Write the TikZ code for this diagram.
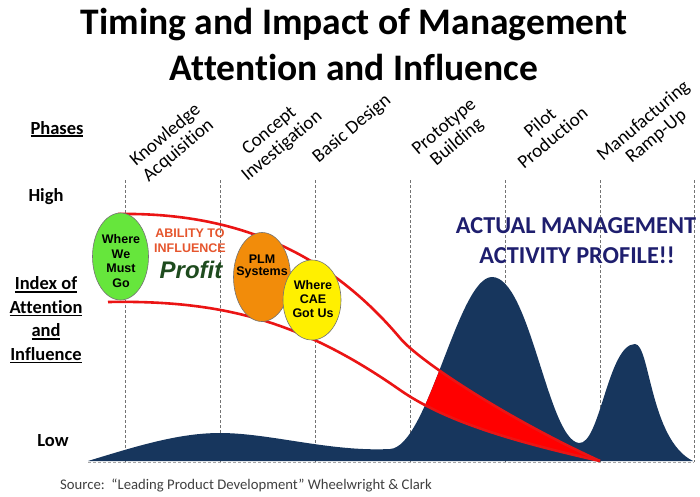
\documentclass[tikz,border=0pt]{standalone}
\usepackage{fontspec}
\setmainfont{Carlito}[Ligatures=NoCommon]
\newfontfamily\arialf{Liberation Sans}
\usetikzlibrary{shapes.geometric}
\definecolor{mtblue}{RGB}{23,54,93}
\definecolor{navytxt}{RGB}{30,30,110}
\definecolor{ellgreen}{RGB}{102,230,60}
\definecolor{ellorange}{RGB}{242,140,10}
\definecolor{ellyellow}{RGB}{255,240,0}
\definecolor{abil}{RGB}{230,85,45}
\definecolor{profitgreen}{RGB}{30,75,30}
\definecolor{bandred}{RGB}{235,20,20}
\newcommand\myul[1]{\setbox0\hbox{#1}\rlap{\rule[-2.6pt]{\wd0}{1.3pt}}\box0}
\newcommand\mtpath{(88,461) .. controls (140,445) and (180,433) .. (220,433)
  .. controls (270,433) and (330,452) .. (390,449)
  .. controls (428,447) and (458,277) .. (492,277)
  .. controls (530,277) and (548,440) .. (579,443)
  .. controls (600,445) and (608,344) .. (635,344)
  .. controls (650,344) and (650,440) .. (693,461) -- cycle}
\begin{document}
\begin{tikzpicture}[x=1pt,y=-1pt,
  title/.style={font=\fontsize{37.5}{40}\selectfont\bfseries, inner sep=0},
  side/.style={font=\fontsize{18.5}{23.5}\selectfont\bfseries, inner sep=0, align=center},
  phase/.style={font=\fontsize{19}{20}\selectfont, inner sep=0, align=center, rotate=40},
  vdash/.style={draw=black!55, line width=0.8pt, dash pattern=on 3pt off 2pt},
  ell/.style={ellipse, draw=black!55, line width=0.6pt, inner sep=0},
  elltxt/.style={font=\fontsize{12.5}{14.5}\selectfont\arialf\bfseries, inner sep=0, align=center},
  redline/.style={draw=bandred, line width=2.6pt},
  acttxt/.style={font=\fontsize{24.3}{28}\selectfont\bfseries, text=navytxt, inner sep=0}]
\useasboundingbox[fill=white] (0,0) rectangle (700,496);

% titles
\node[title, anchor=base] (t1) at (354,34) {Timing and Impact of Management};
\node[title, anchor=base] (t2) at (354,80) {Attention and Influence};

% left labels
\node[side, anchor=base] (phases) at (57,134) {\myul{Phases}};
\node[side, anchor=base] (high) at (46,201) {High};
\node[side] (index) at (46,320) {\myul{Index of}\\\myul{Attention}\\\myul{and}\\\myul{Influence}};
\node[side, anchor=base] (low) at (53,446) {Low};

% phase labels
\node[phase] (p1) at (172,143) {Knowledge\\Acquisition};
\node[phase] (p2) at (276,139) {Concept\\Investigation};
\node[phase] (p3) at (352,129) {Basic Design};
\node[phase] (p4) at (451,135) {Prototype\\Building};
\node[phase] (p5) at (546,130) {Pilot\\Production};
\node[phase] (p6) at (650,129) {Manufacturing\\Ramp-Up};

% dashed phase lines
\foreach \xx in {125,220,315,410,505,600,694}
  \draw[vdash] (\xx,180) -- (\xx,462);

% activity profile
\fill[mtblue] \mtpath;
\begin{scope}
  \clip \mtpath;
  \fill[red] (118,214) .. controls (240,212) and (330,255) .. (400,338)
     .. controls (420,362) and (510,420) .. (600,461)
     .. controls (530,445) and (450,425) .. (400,390)
     .. controls (300,320) and (220,300) .. (108,302) -- cycle;
\end{scope}
\draw[vdash, draw=black!35] (88,462) -- (694,462);

% ability-to-influence band
\draw[redline] (118,214) .. controls (240,212) and (330,255) .. (400,338)
     .. controls (420,362) and (510,420) .. (600,461);
\draw[redline] (108,302) .. controls (220,300) and (300,320) .. (400,390)
     .. controls (450,425) and (530,445) .. (600,461);

% ellipses
\node[ell, fill=ellgreen, minimum width=56pt, minimum height=87pt] (eg) at (120.5,256.5) {};
\node[elltxt] (egt) at (121,261) {Where\\We\\Must\\Go};
\node[ell, fill=ellorange, minimum width=57pt, minimum height=89pt] (eo) at (262,277) {};
\node[elltxt, font=\fontsize{12.5}{12}\selectfont\arialf\bfseries] (eot) at (262,266) {PLM\\Systems};
\node[ell, fill=ellyellow, minimum width=58pt, minimum height=80pt] (ey) at (312,300) {};
\node[elltxt, font=\fontsize{12.5}{14}\selectfont\arialf\bfseries] (eyt) at (313,299) {Where\\CAE\\Got Us};

% band texts
\node[font=\fontsize{12.5}{15}\selectfont\arialf\bfseries, text=abil, inner sep=0, anchor=base] (ab1) at (190,237) {ABILITY TO};
\node[font=\fontsize{12.5}{15}\selectfont\arialf\bfseries, text=abil, inner sep=0, anchor=base] (ab2) at (190,252) {INFLUENCE};
\node[font=\fontsize{24}{26}\selectfont\arialf\bfseries\itshape, text=profitgreen, inner sep=0, anchor=base] (profit) at (191,278) {Profit};

% actual management
\node[acttxt, anchor=base] (act1) at (576,233) {ACTUAL MANAGEMENT};
\node[acttxt, anchor=base] (act2) at (577,263) {ACTIVITY PROFILE!!};

% source
\node[font=\fontsize{14.7}{16}\selectfont, text=black!75, inner sep=0, anchor=base west] (src) at (60,489) {Source:\ \ ``Leading Product Development'' Wheelwright \& Clark};
\end{tikzpicture}
\end{document}
